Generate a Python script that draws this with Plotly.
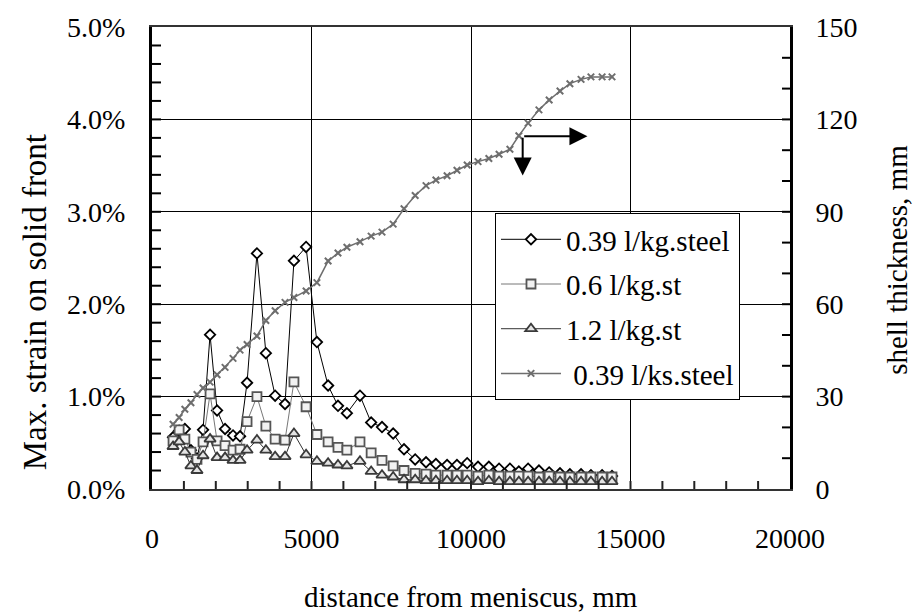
import plotly.graph_objects as go

# distance from meniscus (mm) at each measuring station
distance_mm = [660, 850, 1030, 1220, 1410, 1600, 1820, 2040, 2290, 2540,
               2760, 2980, 3290, 3570, 3860, 4170, 4450, 4830, 5170, 5520,
               5830, 6110, 6520, 6870, 7210, 7560, 7900, 8250, 8590, 8900,
               9250, 9560, 9880, 10220, 10560, 10880, 11220, 11500, 11790, 12130,
               12450, 12790, 13100, 13450, 13760, 14110, 14420]

# maximum strain on the solidification front (%)
strain_039 = [0.56, 0.63, 0.65, 0.42, 0.33, 0.64, 1.67, 0.85, 0.65, 0.58,
              0.57, 1.15, 2.55, 1.47, 1.01, 0.92, 2.47, 2.62, 1.59, 1.12,
              0.90, 0.82, 1.01, 0.72, 0.67, 0.60, 0.43, 0.32, 0.29, 0.27,
              0.26, 0.26, 0.28, 0.24, 0.24, 0.22, 0.22, 0.19, 0.22, 0.20,
              0.18, 0.17, 0.16, 0.16, 0.15, 0.15, 0.14]
strain_06 = [0.52, 0.64, 0.54, 0.40, 0.32, 0.51, 1.03, 0.52, 0.47, 0.42,
             0.43, 0.73, 1.00, 0.68, 0.54, 0.53, 1.16, 0.89, 0.59, 0.51,
             0.45, 0.42, 0.51, 0.39, 0.31, 0.25, 0.20, 0.17, 0.16, 0.15,
             0.15, 0.15, 0.15, 0.14, 0.15, 0.14, 0.14, 0.14, 0.14, 0.13,
             0.14, 0.13, 0.13, 0.13, 0.13, 0.13, 0.13]
strain_12 = [0.46, 0.51, 0.40, 0.25, 0.20, 0.36, 0.54, 0.34, 0.34, 0.31,
             0.31, 0.42, 0.53, 0.42, 0.35, 0.35, 0.60, 0.37, 0.30, 0.28,
             0.26, 0.25, 0.30, 0.19, 0.15, 0.13, 0.10, 0.10, 0.09, 0.09,
             0.09, 0.09, 0.09, 0.08, 0.09, 0.08, 0.08, 0.08, 0.08, 0.08,
             0.08, 0.08, 0.08, 0.08, 0.08, 0.08, 0.08]

# shell thickness (mm), secondary axis
shell_thickness = [21.0, 23.2, 25.9, 28.0, 30.7, 32.8, 34.7, 37.1, 39.5, 42.4,
                   45.1, 46.9, 49.7, 54.7, 57.9, 60.6, 62.2, 64.3, 67.0, 74.0,
                   76.6, 78.5, 80.3, 82.1, 83.4, 86.0, 91.0, 95.3, 98.5, 100.3,
                   101.7, 103.5, 105.2, 106.3, 107.3, 108.7, 110.3, 114.7, 118.8, 123.1,
                   126.3, 129.2, 131.6, 133.0, 133.8, 133.8, 133.8]

series_names = ["0.39 l/kg.steel", "0.6 l/kg.st", "1.2 l/kg.st", " 0.39 l/ks.steel"]

x_tick_values = [0, 5000, 10000, 15000, 20000]
x_tick_labels = ["0", "5000", "10000", "15000", "20000"]

FONT = "Liberation Serif"

fig = go.Figure()

fig.add_trace(go.Scatter(
    x=distance_mm, y=strain_039, name=series_names[0], mode="lines+markers",
    line=dict(color="#000000", width=1),
    marker=dict(symbol="diamond", size=8, color="white",
                line=dict(color="#000000", width=1.8)),
    legendgroup="a"))
fig.add_trace(go.Scatter(
    x=distance_mm, y=strain_06, name=series_names[1], mode="lines+markers",
    line=dict(color="#777777", width=1),
    marker=dict(symbol="square", size=9, color="#f2f2f2",
                line=dict(color="#555555", width=1.8)),
    legendgroup="b"))
fig.add_trace(go.Scatter(
    x=distance_mm, y=strain_12, name=series_names[2], mode="lines+markers",
    line=dict(color="#333333", width=1),
    marker=dict(symbol="triangle-up", size=10, color="#e4e4e4",
                line=dict(color="#3a3a3a", width=1.8)),
    legendgroup="c"))
fig.add_trace(go.Scatter(
    x=distance_mm, y=shell_thickness, name=series_names[3], mode="lines+markers",
    yaxis="y2",
    line=dict(color="#6e6e6e", width=1.5),
    marker=dict(symbol="x-thin", size=6.5, color="#6e6e6e",
                line=dict(color="#6e6e6e", width=2)),
    legendgroup="d"))

tick_font = dict(family=FONT, size=28, color="#000000")

# small inward tick marks along the three axes, positioned in axis units
tick_shapes = []
for k in range(1, 20):
    tick_shapes.append(dict(type="line", xref="x", yref="paper", ysizemode="pixel",
                            yanchor=0, x0=k * 1000, x1=k * 1000, y0=0, y1=8,
                            line=dict(color="#222222", width=2), layer="above"))
for k in range(1, 25):
    tick_shapes.append(dict(type="line", xref="paper", yref="y", xsizemode="pixel",
                            xanchor=0, x0=0, x1=9, y0=k * 0.2, y1=k * 0.2,
                            line=dict(color="#000000", width=2), layer="above"))
for k in range(1, 15):
    tick_shapes.append(dict(type="line", xref="paper", yref="y2", xsizemode="pixel",
                            xanchor=1, x0=0, x1=-8, y0=k * 10, y1=k * 10,
                            line=dict(color="#000000", width=2), layer="above"))

fig.update_layout(
    width=924, height=612,
    margin=dict(l=152, r=134, t=21, b=123),
    paper_bgcolor="white", plot_bgcolor="white",
    font=dict(family=FONT, size=28, color="#000000"),
    showlegend=True,
    legend=dict(
        x=0.5376, y=0.5975, xanchor="left", yanchor="top",
        bgcolor="white", bordercolor="#000000", borderwidth=1,
        font=dict(family=FONT, size=29, color="#000000"),
        traceorder="grouped", tracegroupgap=4, itemwidth=60,
    ),
    xaxis=dict(
        range=[0, 20000], tickmode="array",
        tickvals=x_tick_values, ticktext=x_tick_labels,
        ticks="inside", ticklen=7, tickwidth=1, tickcolor="#333333",
        showgrid=True, gridcolor="#000000", gridwidth=1,
        showline=True, linecolor="#333333", linewidth=2, mirror=True,
        zeroline=False, tickfont=tick_font, ticklabelstandoff=23,
    ),
    yaxis=dict(
        range=[0, 5], tickmode="linear", tick0=0, dtick=1,
        tickformat=".1f", ticksuffix="%",
        ticks="inside", ticklen=8, tickwidth=1, tickcolor="#000000",
        showgrid=True, gridcolor="#000000", gridwidth=1,
        showline=True, linecolor="#000000", linewidth=3, mirror=True,
        zeroline=False, tickfont=tick_font, ticklabelstandoff=18,
    ),
    yaxis2=dict(
        range=[0, 150], tickmode="linear", tick0=0, dtick=30,
        overlaying="y", side="right", anchor="x",
        ticks="inside", ticklen=7, tickwidth=1, tickcolor="#000000",
        showgrid=False, showline=True, linecolor="#000000", linewidth=2,
        zeroline=False, tickfont=tick_font, ticklabelstandoff=18,
    ),
    shapes=tick_shapes,
    annotations=[
        dict(text="Max. strain on solid front", xref="paper", yref="paper",
             x=-0.1834, y=0.404, textangle=-90, showarrow=False,
             xanchor="center", yanchor="middle", font=dict(family=FONT, size=33)),
        dict(text="shell thickness, mm", xref="paper", yref="paper",
             x=1.1677, y=0.496, textangle=-90, showarrow=False,
             xanchor="center", yanchor="middle", font=dict(family=FONT, size=29)),
        dict(text="distance from meniscus, mm", xref="paper", yref="paper",
             x=0.5, y=-0.233, showarrow=False,
             xanchor="center", yanchor="middle", font=dict(family=FONT, size=29)),
        # arrows pointing the thickness curve to its right-hand axis
        dict(x=13650, y=114.5, xref="x", yref="y2", ax=11620, ay=114.5,
             axref="x", ayref="y2", showarrow=True, arrowhead=2, arrowsize=1.8,
             arrowwidth=2, arrowcolor="#000000", text=""),
        dict(x=11620, y=101.8, xref="x", yref="y2", ax=11620, ay=114.5,
             axref="x", ayref="y2", showarrow=True, arrowhead=2, arrowsize=1.8,
             arrowwidth=2, arrowcolor="#000000", text=""),
    ],
)

fig.write_html("out.html")
